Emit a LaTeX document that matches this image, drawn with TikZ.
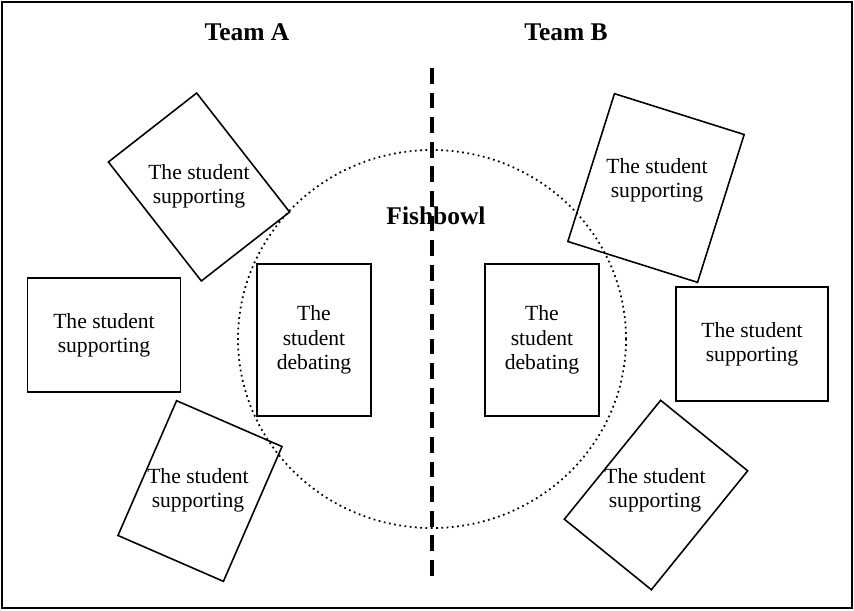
\documentclass[tikz,border=0pt]{standalone}
\usepackage{fontspec}
\usetikzlibrary{shapes.geometric}
\setmainfont{Liberation Serif}
\begin{document}
\begin{tikzpicture}[x=0.02cm,y=-0.02cm,
  box/.style={draw,line width=0.9pt,inner sep=0pt},
  lbl/.style={font=\fontsize{12.3}{13.8}\selectfont,align=center},
  ttl/.style={font=\fontsize{14.5}{16}\selectfont\bfseries}]
\useasboundingbox (0,0) rectangle (854,610);
\draw[line width=0.8pt] (2,2) rectangle (852,608);
\node[ttl] (ta) at (247,32) {Team A};
\node[ttl] (tb) at (566,32) {Team B};
\coordinate (dtop) at (432,68);
\coordinate (dbot) at (432,582);
\draw[line width=1.8pt,dash pattern=on 9pt off 5pt] (dtop) -- (dbot);
\node[draw,dotted,line width=1pt,ellipse,inner sep=0pt,minimum width=388*0.02cm,minimum height=378*0.02cm] (fb) at (432,339) {};
\node[ttl] (fl) at (436,216) {Fishbowl};
% debating
\node[box,minimum width=114*0.02cm,minimum height=152*0.02cm] (da) at (314,340) {};
\node[lbl] at (da) {The\\student\\debating};
\node[box,minimum width=114*0.02cm,minimum height=152*0.02cm] (db) at (542,340) {};
\node[lbl] at (db) {The\\student\\debating};
% side boxes
\node[box,minimum width=153*0.02cm,minimum height=114*0.02cm] (sa) at (104,335) {};
\node[lbl] at (sa) {The student\\supporting};
\node[box,minimum width=152*0.02cm,minimum height=114*0.02cm] (sb) at (752,344) {};
\node[lbl] at (sb) {The student\\supporting};
% rotated boxes
\node[box,rotate=-52,minimum width=151*0.02cm,minimum height=112*0.02cm] (ra) at (199,187) {};
\node[lbl] at (199,186) {The student\\supporting};
\node[box,rotate=-17.5,minimum width=136*0.02cm,minimum height=155*0.02cm] (rb) at (656,188) {};
\node[lbl] at (657,180) {The student\\supporting};
\node[box,rotate=-23.5,minimum width=115*0.02cm,minimum height=147*0.02cm] (rc) at (200,491) {};
\node[lbl] at (198,490) {The student\\supporting};
\node[box,rotate=51,minimum width=153*0.02cm,minimum height=112*0.02cm] (rd) at (656,495) {};
\node[lbl] at (655,490) {The student\\supporting};
\end{tikzpicture}
\end{document}
